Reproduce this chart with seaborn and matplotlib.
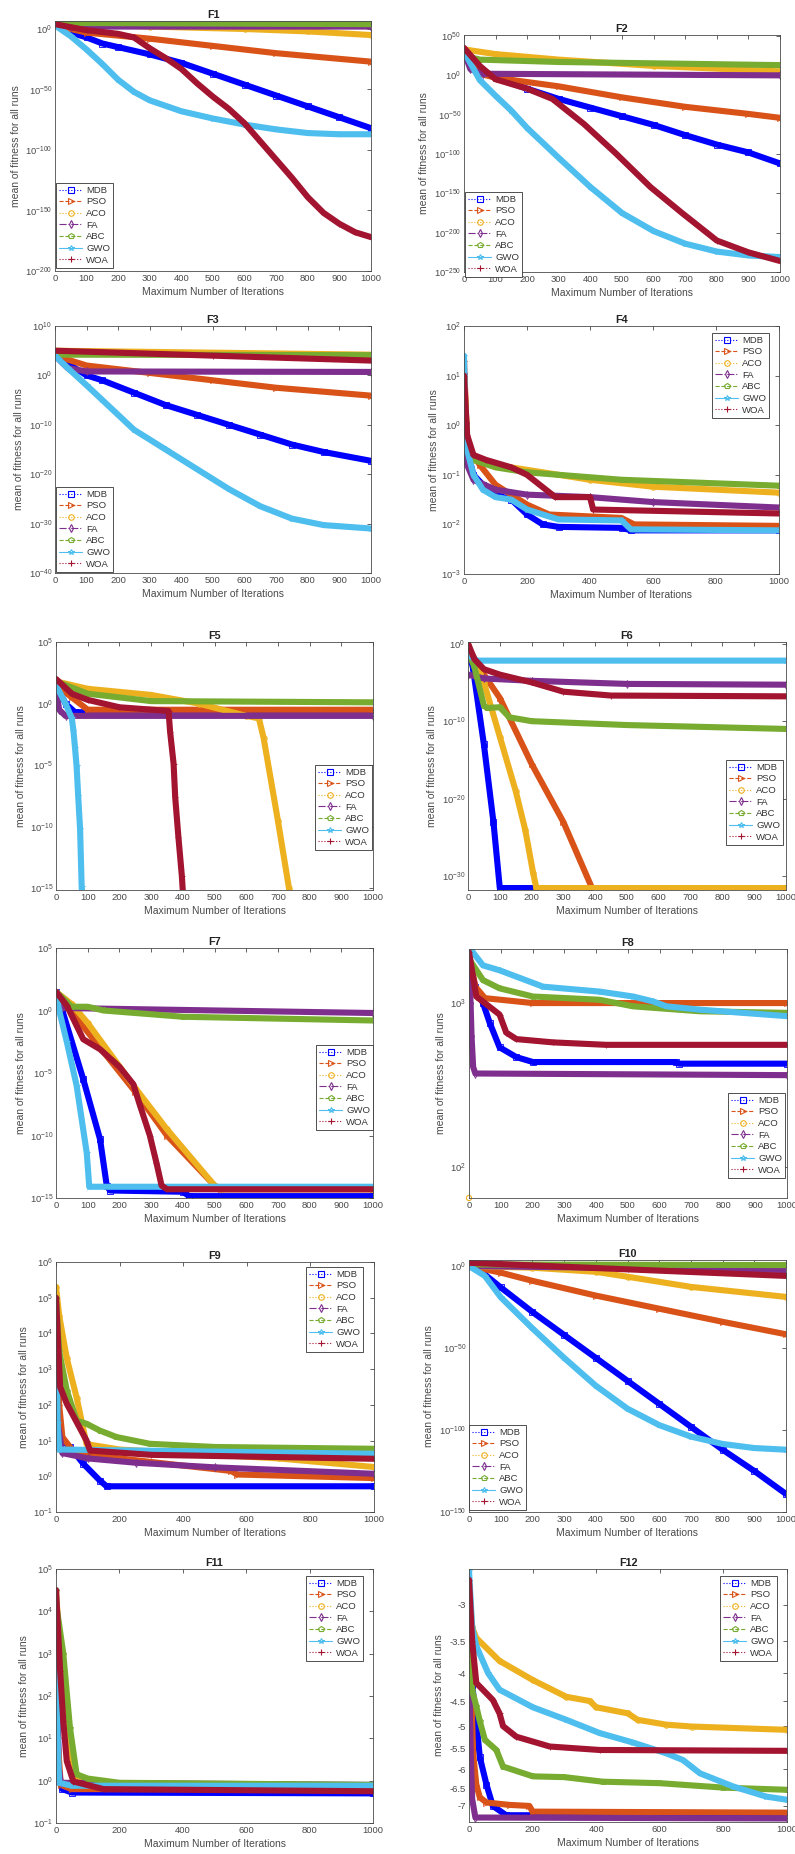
import numpy as np
import pandas as pd
import matplotlib
matplotlib.use("Agg")
import matplotlib.pyplot as plt
from matplotlib.lines import Line2D
from matplotlib.ticker import NullLocator
import seaborn as sns

sns.set_style("white")
plt.rcParams['font.family'] = ['Liberation Sans', 'DejaVu Sans']
plt.rcParams['mathtext.fontset'] = 'custom'
plt.rcParams['mathtext.rm'] = 'Liberation Sans'
plt.rcParams['mathtext.default'] = 'regular'

ALGOS = ['MDB', 'PSO', 'ACO', 'FA', 'ABC', 'GWO', 'WOA']
COLORS = ['#0000ff', '#d95319', '#edb120', '#7e2f8e', '#77ac30', '#4dbeee', '#a2142f']
LSTYLES = [':', '--', ':', '-.', '--', '-', ':']
MARKERS = ['s', '>', 'o', 'd', 'p', '*', '+']

# curves: (iteration, log10 of mean fitness); F12 is the plain value
F1_MDB = [(0, 3), (50, -3), (100, -7), (150, -12), (200, -15), (300, -21), (400, -28), (500, -37),
          (600, -46), (700, -55), (800, -64), (900, -73), (1000, -82)]
F1_PSO = [(0, 3), (50, 0), (100, -3), (300, -8), (500, -14), (700, -20), (1000, -27)]
F1_ACO = [(0, 5), (100, 4), (300, 2), (600, 0), (800, -2), (1000, -5)]
F1_FA = [(0, 4), (50, 2), (1000, 2)]
F1_ABC = [(0, 5), (1000, 4)]
F1_GWO = [(0, 3), (50, -6), (100, -17), (150, -29), (200, -42), (250, -52), (300, -59), (400, -68),
          (500, -74), (600, -79), (700, -83), (800, -86), (900, -87), (1000, -87)]
F1_WOA = [(0, 4), (100, -1), (200, -4), (250, -7), (300, -16), (350, -24), (400, -33), (450, -45),
          (500, -56), (550, -66), (600, -78), (650, -93), (700, -108), (750, -123), (800, -139),
          (850, -152), (900, -161), (950, -168), (1000, -172)]

F2_MDB = [(0, 30), (30, 10), (100, -3), (200, -17), (300, -30), (400, -41), (500, -52), (600, -63),
          (700, -76), (800, -88), (900, -98), (1000, -112)]
F2_PSO = [(0, 30), (50, 2), (100, -3), (300, -14), (500, -28), (700, -40), (900, -49), (1000, -54)]
F2_ACO = [(0, 33), (100, 27), (300, 20), (600, 12), (1000, 5)]
F2_FA = [(0, 30), (20, 8), (60, 2), (1000, 0)]
F2_ABC = [(0, 25), (50, 20), (300, 17), (1000, 13)]
F2_GWO = [(0, 30), (50, -6), (100, -26), (150, -45), (200, -67), (300, -105), (400, -142), (500, -175),
          (600, -198), (700, -214), (800, -224), (900, -229), (1000, -231)]
F2_WOA = [(0, 35), (50, 12), (100, -5), (200, -17), (280, -30), (380, -62), (480, -99), (590, -142),
          (690, -175), (800, -210), (900, -225), (1000, -236)]

F3_MDB = [(0, 4), (50, 2), (100, 0), (150, -1), (250, -3.5), (350, -6), (450, -8), (550, -10),
          (650, -12), (750, -14), (850, -15.5), (1000, -17.3)]
F3_PSO = [(0, 4), (100, 2), (300, 0.5), (500, -1), (700, -2.5), (1000, -4.1)]
F3_ACO = [(0, 5), (1000, 4.2)]
F3_FA = [(0, 4), (40, 1.5), (100, 0.8), (1000, 0.7)]
F3_ABC = [(0, 4.2), (1000, 4.1)]
F3_GWO = [(0, 4), (40, 1.5), (100, -2), (150, -5), (250, -11), (350, -15), (450, -19), (550, -23),
          (650, -26.5), (750, -29), (850, -30.3), (1000, -31)]
F3_WOA = [(0, 5), (500, 4), (1000, 3)]

F4_MDB = [(0, 1), (5, 0), (10, -0.5), (30, -1), (60, -1.2), (100, -1.4), (150, -1.5), (200, -1.8),
          (250, -2), (300, -2.05), (500, -2.07), (530, -2.12), (1000, -2.12)]
F4_PSO = [(0, 1.3), (10, -0.4), (50, -0.8), (100, -1.2), (200, -1.6), (270, -1.8), (500, -1.87),
          (540, -2.0), (1000, -2.03)]
F4_ACO = [(0, 1), (10, -0.3), (30, -0.7), (100, -0.8), (200, -0.9), (400, -1.1), (600, -1.24),
          (1000, -1.36)]
F4_FA = [(0, 0), (10, -0.8), (30, -1.1), (100, -1.3), (200, -1.4), (400, -1.45), (600, -1.55),
         (1000, -1.66)]
F4_ABC = [(0, 0.8), (10, -0.3), (30, -0.7), (100, -0.85), (200, -0.95), (300, -1.0), (500, -1.1),
          (1000, -1.22)]
F4_GWO = [(0, 1.4), (5, 0), (10, -0.5), (30, -1), (60, -1.3), (100, -1.45), (150, -1.5), (200, -1.7),
          (300, -1.9), (500, -1.92), (530, -2.1), (1000, -2.12)]
F4_WOA = [(0, 1), (10, -0.2), (30, -0.6), (70, -0.7), (150, -0.85), (200, -1.0), (260, -1.3),
          (290, -1.45), (400, -1.45), (410, -1.7), (1000, -1.78)]

F5_MDB = [(0, 1.5), (30, 0), (60, -0.7), (1000, -0.8)]
F5_PSO = [(0, 1.5), (50, 0.5), (100, -0.5), (1000, -0.5)]
F5_ACO = [(0, 1.8), (100, 1.2), (300, 0.7), (450, 0), (600, -1), (640, -1.2), (655, -2.8), (700, -9.5),
          (735, -15), (740, -16)]
F5_FA = [(0, 1.2), (10, -0.5), (30, -1), (1000, -1)]
F5_ABC = [(0, 1.8), (100, 0.8), (300, 0.2), (1000, 0.1)]
F5_GWO = [(0, 1.5), (30, 0), (50, -1.2), (55, -2.2), (60, -3.6), (65, -5.1), (70, -7.5), (76, -10.2),
          (81, -14.9), (83, -16)]
F5_WOA = [(0, 2), (50, 0.8), (100, 0.3), (200, -0.3), (355, -0.6), (360, -2.3), (371, -4.9),
          (376, -7.6), (386, -10.8), (397, -14), (402, -16)]

F6_MDB = [(0, -1), (15, -3), (50, -13), (80, -23), (100, -31.5), (1000, -31.5)]
F6_PSO = [(0, -0.5), (50, -4), (100, -7), (200, -15.5), (300, -23), (390, -31.5), (1000, -31.5)]
F6_ACO = [(0, -0.5), (30, -3), (50, -5), (100, -12), (150, -19), (180, -24), (205, -29.6),
          (215, -31.5), (1000, -31.5)]
F6_FA = [(0, -4), (50, -4.5), (200, -4.8), (500, -5.2), (1000, -5.3)]
F6_ABC = [(0, -1), (20, -3), (50, -8), (60, -8.3), (100, -8.2), (130, -9.5), (200, -10), (500, -10.5),
          (1000, -11)]
F6_GWO = [(0, -1.5), (30, -2.2), (1000, -2.2)]
F6_WOA = [(0, 0), (20, -2), (50, -3.3), (100, -4), (200, -5), (300, -6.2), (450, -6.7), (1000, -6.8)]

F7_MDB = [(0, 1.5), (20, 0), (86, -5.5), (139, -10.3), (160, -14), (170, -14.4), (400, -14.5),
          (420, -14.85), (1000, -14.85)]
F7_PSO = [(0, 1.5), (30, 0.5), (250, -6.5), (350, -10), (500, -14), (520, -14.3), (1000, -14.3)]
F7_ACO = [(0, 1.5), (50, 0.5), (100, -1), (250, -6.2), (350, -9.5), (500, -14), (520, -14.3),
          (1000, -14.3)]
F7_FA = [(0, 1), (20, 0.2), (1000, -0.2)]
F7_ABC = [(0, 1.5), (50, 0.3), (100, 0.3), (150, 0), (400, -0.5), (1000, -0.8)]
F7_GWO = [(0, 1.5), (10, 0), (34, -2.5), (65, -6), (97, -11.4), (105, -14.1), (1000, -14.1)]
F7_WOA = [(0, 1.5), (34, 0.4), (86, -2.3), (139, -3.1), (200, -4.5), (244, -5.9), (265, -7.6),
          (296, -10), (317, -12.2), (333, -14), (350, -14.3), (1000, -14.3)]

F8_MDB = [(0, 3.25), (20, 3.1), (44, 3.0), (65, 2.88), (96, 2.73), (149, 2.67), (201, 2.64),
          (650, 2.64), (660, 2.63), (1000, 2.63)]
F8_PSO = [(0, 3.3), (20, 3.1), (50, 3.03), (200, 3.0), (1000, 3.0)]
F8_ACO = [(0, 1.81)]
F8_FA = [(0, 3.18), (5, 3.0), (8, 2.8), (13, 2.61), (20, 2.57), (1000, 2.56)]
F8_ABC = [(0, 3.27), (44, 3.14), (96, 3.09), (201, 3.04), (411, 3.02), (516, 2.98), (725, 2.95),
          (1000, 2.94)]
F8_GWO = [(0, 3.34), (44, 3.23), (96, 3.2), (233, 3.1), (411, 3.07), (516, 3.04), (579, 3.01),
          (621, 2.98), (725, 2.96), (1000, 2.92)]
F8_WOA = [(0, 3.31), (23, 3.04), (96, 2.93), (117, 2.82), (149, 2.78), (264, 2.76), (432, 2.745),
          (1000, 2.745)]

F9_MDB = [(0, 4.5), (5, 2), (10, 1.1), (44, 0.82), (86, 0.35), (138, -0.12), (159, -0.28), (1000, -0.28)]
F9_PSO = [(0, 5), (10, 2), (20, 1.1), (50, 0.75), (150, 0.55), (300, 0.4), (550, 0.15), (570, 0.05),
          (1000, -0.05)]
F9_ACO = [(0, 5.3), (10, 4.5), (34, 3.3), (65, 2.2), (96, 0.9), (200, 0.75), (400, 0.65), (700, 0.5),
          (1000, 0.26)]
F9_FA = [(0, 3.5), (5, 1.5), (20, 0.65), (100, 0.5), (250, 0.38), (500, 0.25), (1000, 0.07)]
F9_ABC = [(0, 5), (10, 3.5), (34, 2.4), (65, 1.56), (96, 1.47), (138, 1.28), (190, 1.1), (295, 0.91),
          (500, 0.82), (1000, 0.77)]
F9_GWO = [(0, 4.5), (5, 1.5), (10, 0.75), (1000, 0.63)]
F9_WOA = [(0, 5), (13, 2.5), (34, 2.03), (60, 1.6), (96, 1.0), (107, 0.72), (300, 0.6), (1000, 0.49)]

F10_MDB = [(0, 0), (30, -2), (100, -13), (200, -28), (300, -42), (400, -56), (500, -70), (600, -84),
           (700, -98), (800, -112), (900, -125), (1000, -139)]
F10_PSO = [(0, 0), (100, -4), (200, -9), (400, -18), (600, -26), (800, -34), (1000, -41.6)]
F10_ACO = [(0, 0), (200, -1), (400, -3.5), (500, -6.5), (700, -12.7), (1000, -18.8)]
F10_FA = [(0, 0), (1000, -2.4)]
F10_ABC = [(0, 1), (1000, 0.6)]
F10_GWO = [(0, 0), (50, -6), (100, -19), (200, -38), (300, -56), (400, -73), (500, -87), (600, -97),
           (700, -104), (800, -108.5), (900, -111), (1000, -112)]
F10_WOA = [(0, 2), (500, -2), (1000, -6)]

F11_MDB = [(0, 4), (5, 1.5), (10, 0), (20, -0.2), (50, -0.28), (1000, -0.3)]
F11_PSO = [(0, 3.5), (5, 1), (15, -0.1), (50, -0.2), (1000, -0.2)]
F11_ACO = [(0, 4.5), (13, 3), (23, 1.7), (44, 0.7), (65, 0.1), (150, -0.1), (1000, -0.17)]
F11_FA = [(0, 3), (5, 0.5), (15, -0.05), (1000, -0.1)]
F11_ABC = [(0, 4.2), (23, 3), (44, 1.25), (65, 0.15), (100, 0.05), (200, -0.05), (1000, -0.1)]
F11_GWO = [(0, 4.5), (5, 1), (10, -0.05), (50, -0.12), (1000, -0.12)]
F11_WOA = [(0, 4.5), (13, 2.6), (23, 1.4), (34, 0.46), (55, -0.02), (150, -0.2), (1000, -0.25)]

F12_MDB = [(0, -3.3), (10, -4.2), (23, -4.9), (34, -5.7), (55, -6.4), (75, -7.0), (117, -7.28),
           (1000, -7.28)]
F12_PSO = [(0, -3.2), (13, -5.6), (23, -6.4), (34, -6.75), (55, -6.9), (128, -6.97), (190, -7.0),
           (200, -7.17), (1000, -7.2)]
F12_ACO = [(0, -2.8), (10, -3.3), (23, -3.45), (96, -3.8), (201, -4.12), (306, -4.42), (380, -4.5),
           (400, -4.62), (500, -4.74), (530, -4.87), (620, -4.97), (700, -5.01), (1000, -5.08)]
F12_FA = [(0, -3.7), (5, -5.5), (10, -6.8), (20, -7.35), (1000, -7.38)]
F12_ABC = [(0, -3.5), (10, -4.3), (23, -4.6), (34, -4.9), (50, -5.3), (86, -5.53), (107, -5.93),
           (201, -6.18), (300, -6.2), (420, -6.32), (600, -6.36), (800, -6.48), (1000, -6.54)]
F12_GWO = [(0, -2.6), (10, -3.3), (23, -3.57), (60, -4.0), (96, -4.29), (201, -4.62), (306, -4.87),
           (411, -5.15), (516, -5.36), (621, -5.61), (673, -5.77), (726, -6.1), (831, -6.45),
           (935, -6.73), (1000, -6.82)]
F12_WOA = [(0, -2.7), (10, -3.5), (23, -4.17), (75, -4.48), (96, -4.74), (107, -5.0), (149, -5.23),
           (254, -5.45), (411, -5.53), (1000, -5.55)]

# y ticks (exponents for log panels)
F1_YT = [0, -50, -100, -150, -200]
F2_YT = [50, 0, -50, -100, -150, -200, -250]
F3_YT = [10, 0, -10, -20, -30, -40]
F4_YT = [2, 1, 0, -1, -2, -3]
F5_YT = [5, 0, -5, -10, -15]
F6_YT = [0, -10, -20, -30]
F7_YT = [5, 0, -5, -10, -15]
F8_YT = [3, 2]
F9_YT = [6, 5, 4, 3, 2, 1, 0, -1]
F10_YT = [0, -50, -100, -150]
F11_YT = [5, 4, 3, 2, 1, 0, -1]
F12_YT = [-3, -3.5, -4, -4.5, -5, -5.5, -6, -6.5, -7]
F12_YT_LABELS = ['-3', '-3.5', '-4', '-4.5', '-5', '-5.5', '-6', '-6.5', '-7']

W, H = 795, 1854
fig = plt.figure(figsize=(W / 100, H / 100), dpi=100)

# name, curves, yticks, ylim(exponent or value), x tick step, axes box px (l, t, r, b),
# legend top-left px, ylabel offset px
panels = [
    ('F1', [F1_MDB, F1_PSO, F1_ACO, F1_FA, F1_ABC, F1_GWO, F1_WOA], F1_YT, (-200, 6.6), 100,
     (55, 21, 371, 271), (56, 183), 34),
    ('F2', [F2_MDB, F2_PSO, F2_ACO, F2_FA, F2_ABC, F2_GWO, F2_WOA], F2_YT, (-250, 51.3), 100,
     (464, 35, 780, 272), (465, 192), 35),
    ('F3', [F3_MDB, F3_PSO, F3_ACO, F3_FA, F3_ABC, F3_GWO, F3_WOA], F3_YT, (-40, 10), 100,
     (55, 326, 371, 573), (56, 487), 31),
    ('F4', [F4_MDB, F4_PSO, F4_ACO, F4_FA, F4_ABC, F4_GWO, F4_WOA], F4_YT, (-3, 2), 200,
     (464, 326, 779, 574), (712, 333), 25),
    ('F5', [F5_MDB, F5_PSO, F5_ACO, F5_FA, F5_ABC, F5_GWO, F5_WOA], F5_YT, (-15.14, 5), 100,
     (56, 642, 373, 890), (315, 765), 30),
    ('F6', [F6_MDB, F6_PSO, F6_ACO, F6_FA, F6_ABC, F6_GWO, F6_WOA], F6_YT, (-31.75, 0.2), 100,
     (468, 642, 786, 890), (726, 760), 31),
    ('F7', [F7_MDB, F7_PSO, F7_ACO, F7_FA, F7_ABC, F7_GWO, F7_WOA], F7_YT, (-15, 5), 100,
     (56, 948, 373, 1198), (316, 1045), 30),
    ('F8', [F8_MDB, F8_PSO, F8_ACO, F8_FA, F8_ABC, F8_GWO, F8_WOA], F8_YT, (1.81, 3.33), 100,
     (469, 949, 787, 1198), (728, 1093), 23),
    ('F9', [F9_MDB, F9_PSO, F9_ACO, F9_FA, F9_ABC, F9_GWO, F9_WOA], F9_YT, (-1, 6), 200,
     (56, 1262, 374, 1512), (306, 1267), 27),
    ('F10', [F10_MDB, F10_PSO, F10_ACO, F10_FA, F10_ABC, F10_GWO, F10_WOA], F10_YT, (-150, 3.7), 100,
     (469, 1260, 786, 1512), (469, 1425), 35),
    ('F11', [F11_MDB, F11_PSO, F11_ACO, F11_FA, F11_ABC, F11_GWO, F11_WOA], F11_YT, (-1, 5), 200,
     (56, 1569, 373, 1823), (306, 1576), 27),
    ('F12', [F12_MDB, F12_PSO, F12_ACO, F12_FA, F12_ABC, F12_GWO, F12_WOA], F12_YT, (-7.49, -2.58), 200,
     (469, 1569, 787, 1822), (720, 1576), 25),
]

AX_COLOR = '#4a4a4a'


def neg_log_fwd(y):
    return -np.log10(np.maximum(np.abs(y), 1e-9))


def neg_log_inv(v):
    return -10.0 ** (-np.asarray(v))


for name, curves, yt, ylim, xstep, box, leg_xy, ylab_off in panels:
    l, t, r, b = box
    wpx, hpx = r - l, b - t
    ax = fig.add_axes([l / W, 1 - b / H, wpx / W, hpx / H])
    is_log = name != 'F12'

    rows = []
    for algo, pts in zip(ALGOS, curves):
        for it, v in pts:
            rows.append((algo, it, v))
    df = pd.DataFrame(rows, columns=['algo', 'iter', 'val'])
    df['fit'] = 10.0 ** df['val'] if is_log else df['val']

    for algo, c, m in zip(ALGOS, COLORS, MARKERS):
        d = df[df['algo'] == algo]
        if len(d) == 1:
            sns.scatterplot(data=d, x='iter', y='fit', ax=ax, marker='o', s=14,
                            facecolor='none', edgecolor=c, linewidth=0.8, clip_on=False, legend=False)
        else:
            sns.lineplot(data=d, x='iter', y='fit', ax=ax, color=c, linewidth=4.4,
                         estimator=None, sort=False, legend=False,
                         marker=m, markersize=4, markerfacecolor='none',
                         markeredgecolor=c, markeredgewidth=0.6)

    if is_log:
        ax.set_yscale('log')
        ax.set_ylim(10.0 ** ylim[0], 10.0 ** ylim[1])
        ax.set_yticks([10.0 ** e for e in yt])
        ax.set_yticklabels([f'$10^{{{e}}}$' for e in yt])
        ax.yaxis.set_minor_locator(NullLocator())
    else:
        ax.set_yscale('function', functions=(neg_log_fwd, neg_log_inv))
        ax.set_ylim(ylim[0], ylim[1])
        ax.set_yticks(yt)
        ax.set_yticklabels(F12_YT_LABELS)
        ax.yaxis.set_minor_locator(NullLocator())

    ax.set_xlim(0, 1000)
    ax.set_xticks(np.arange(0, 1001, xstep))
    ax.set_xticklabels([str(v) for v in np.arange(0, 1001, xstep)])

    ax.tick_params(direction='in', top=True, right=True, length=3, width=0.6,
                   labelsize=6.8, colors=AX_COLOR, pad=2)
    for s in ax.spines.values():
        s.set_color(AX_COLOR)
        s.set_linewidth(0.6)

    ax.set_title(name, fontsize=7.8, fontweight='bold', pad=2.5, color='#222222')
    ax.set_xlabel('Maximum Number of Iterations', fontsize=7.5, color=AX_COLOR)
    ax.set_ylabel('mean of fitness for all runs', fontsize=7.5, color=AX_COLOR)
    ax.xaxis.set_label_coords(0.5, -16 / hpx)
    ax.yaxis.set_label_coords(-ylab_off / wpx, 0.5)

    handles = [Line2D([0], [0], color=c, linestyle=ls, marker=m, markerfacecolor='none',
                      linewidth=0.8, markersize=4, markeredgewidth=0.8)
               for c, ls, m in zip(COLORS, LSTYLES, MARKERS)]
    leg = ax.legend(handles, ALGOS, loc='upper left',
                    bbox_to_anchor=(leg_xy[0] / W, 1 - leg_xy[1] / H),
                    bbox_transform=fig.transFigure, fontsize=6.8, frameon=True,
                    fancybox=False, framealpha=1, edgecolor='#333333',
                    handlelength=2.5, handletextpad=0.4, labelspacing=0.28,
                    borderpad=0.3, borderaxespad=0)
    leg.get_frame().set_linewidth(0.6)
    for txt in leg.get_texts():
        txt.set_color('#333333')

fig.savefig('out.png', dpi=100, facecolor='white')
